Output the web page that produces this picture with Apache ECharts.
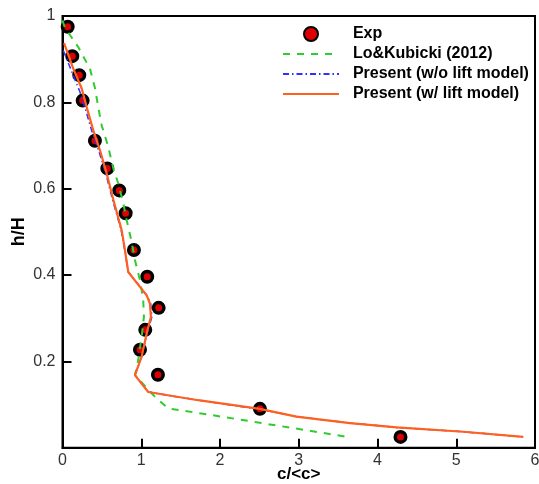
<!DOCTYPE html>
<html><head><meta charset="utf-8">
<script src="https://cdn.jsdelivr.net/npm/echarts@6/dist/echarts.min.js"></script>
<style>html,body{margin:0;padding:0;background:#fff}#c{width:539px;height:484px}</style>
</head><body><div id="c"></div>
<script>
const xTicks = [0,1,2,3,4,5,6];
const yTicks = [0,0.2,0.4,0.6,0.8,1];
const expX = [0.066,0.124,0.213,0.256,0.412,0.569,0.721,0.802,0.907,1.076,1.221,1.051,0.984,1.212,2.507,4.292];
const expY = [0.975,0.907,0.863,0.804,0.711,0.647,0.596,0.543,0.458,0.396,0.324,0.273,0.227,0.169,0.090,0.025];
const loX = [0.0,0.032,0.095,0.20,0.244,0.349,0.412,0.454,0.497,0.581,0.645,0.708,0.772,0.815,0.878,0.92,0.984,1.025,1.034,1.005,0.962,0.92,1.195,1.343,1.914,2.633,3.353,3.607];
const loY = [0.99,0.972,0.956,0.928,0.913,0.878,0.833,0.789,0.747,0.697,0.647,0.612,0.566,0.527,0.477,0.435,0.388,0.342,0.303,0.257,0.203,0.168,0.114,0.091,0.075,0.054,0.033,0.025];
const woX = [0.01,0.12,0.22,0.29,0.37,0.46,0.55,0.635,0.745,0.79,0.835,1.07,1.12,1.135,1.075,1.005,0.92,1.089,1.723,2.506,2.97,3.65,4.24,5.09,5.85];
const woY = [0.92,0.87,0.825,0.785,0.735,0.688,0.635,0.575,0.504,0.458,0.407,0.353,0.334,0.303,0.265,0.211,0.168,0.129,0.110,0.089,0.072,0.057,0.047,0.037,0.025];
const wX = [0.02,0.137,0.244,0.307,0.391,0.476,0.561,0.645,0.751,0.793,0.835,1.069,1.11,1.123,1.069,1.005,0.92,1.089,1.723,2.506,2.97,3.65,4.24,5.09,5.85];
const wY = [0.937,0.878,0.832,0.789,0.735,0.689,0.635,0.575,0.504,0.458,0.407,0.353,0.334,0.303,0.265,0.211,0.168,0.129,0.110,0.090,0.072,0.057,0.047,0.037,0.025];
const names = ['Exp','Lo&Kubicki (2012)','Present (w/o lift model)','Present (w/ lift model)'];
const zip = (a,b)=>a.map((v,i)=>[v,b[i]]);
const font = 'Liberation Sans, Arial, sans-serif';
const xMin = xTicks[0], xMax = xTicks[xTicks.length-1];
const yMin = yTicks[0], yMax = yTicks[yTicks.length-1];
const chart = echarts.init(document.getElementById('c'));
chart.setOption({
  animation:false,
  grid:{left:62.5,right:4,top:16,bottom:36.3,containLabel:false,outerBoundsMode:'none',
    show:true,borderColor:'#000',borderWidth:2},
  legend:{orient:'vertical',left:277,top:21,padding:5,itemWidth:56,itemHeight:14,itemGap:4,
    data:[{name:names[0]},
          {name:names[1],itemStyle:{opacity:0}},
          {name:names[2],itemStyle:{opacity:0}},
          {name:names[3],itemStyle:{opacity:0}}],
    formatter:n=>'  '+n,
    textStyle:{fontFamily:font,fontWeight:'bold',fontSize:16,color:'#000'}},
  xAxis:{type:'value',min:xMin,max:xMax,interval:1,
    name:'c/<c>',nameLocation:'middle',nameGap:18,nameMoveOverlap:false,
    nameTextStyle:{fontFamily:font,fontWeight:'bold',fontSize:17,color:'#000'},
    axisLine:{onZero:false,lineStyle:{color:'#000',width:2}},
    axisTick:{inside:true,length:9,lineStyle:{color:'#000',width:2}},
    axisLabel:{fontFamily:font,fontSize:16,color:'#333',margin:5},
    splitLine:{show:false}},
  yAxis:{type:'value',min:yMin,max:yMax,interval:0.2,
    name:'h/H',nameLocation:'middle',nameGap:34,nameMoveOverlap:false,
    nameTextStyle:{fontFamily:font,fontWeight:'bold',fontSize:18,color:'#000'},
    axisLine:{onZero:false,lineStyle:{color:'#000',width:2}},
    axisTick:{inside:true,length:9,lineStyle:{color:'#000',width:2}},
    axisLabel:{fontFamily:font,fontSize:16,color:'#333',margin:7,formatter:v=>v===0?'':String(+v.toFixed(1))},
    splitLine:{show:false}},
  series:[
    {name:'frame',type:'line',data:[[xMin,yMax],[xMax,yMax],[xMax,yMin]],symbol:'none',
     clip:false,silent:true,z:5,lineStyle:{color:'#000',width:2},itemStyle:{color:'#000'}},
    {name:names[0],type:'scatter',data:zip(expX,expY),symbol:'circle',symbolSize:10.5,
     itemStyle:{color:'#dd0000',borderColor:'#000',borderWidth:3.5,opacity:1}},
    {name:names[1],type:'line',data:zip(loX,loY),symbol:'none',
     lineStyle:{color:'#2ecc2e',width:2,type:[7,7]},itemStyle:{color:'#2ecc2e'}},
    {name:names[2],type:'line',data:zip(woX,woY),symbol:'none',
     lineStyle:{color:'#3030ff',width:1.5,type:[6,3,1.5,3]},itemStyle:{color:'#3030ff'}},
    {name:names[3],type:'line',data:zip(wX,wY),symbol:'none',
     lineStyle:{color:'#ff6020',width:2.2},itemStyle:{color:'#ff6020'}}
  ]
});
</script></body></html>
